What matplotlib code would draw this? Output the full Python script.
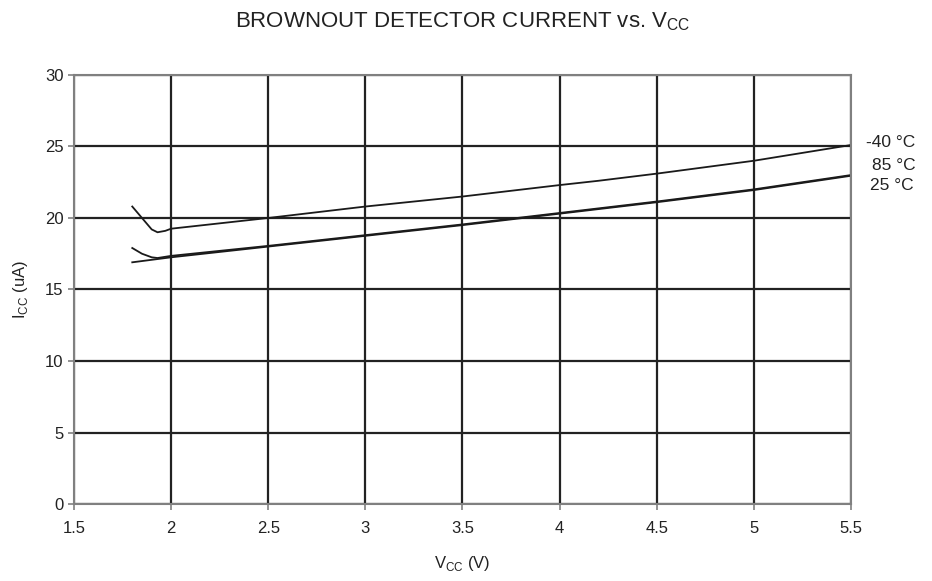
import matplotlib.pyplot as plt

plt.rcParams['font.family'] = ['Liberation Sans', 'DejaVu Sans']

# Datos
v_m40 = [1.80, 1.85, 1.90, 1.93, 1.97, 2.0, 2.5, 3.0, 3.5, 4.0, 4.2, 4.5, 5.0, 5.5]
i_m40 = [20.8, 20.0, 19.2, 19.0, 19.1, 19.25, 20.0, 20.8, 21.5, 22.3, 22.6, 23.1, 24.0, 25.1]

v_85 = [1.80, 1.85, 1.90, 1.93, 2.0, 2.5, 3.0, 3.5, 4.0, 4.5, 5.0, 5.5]
i_85 = [17.9, 17.5, 17.25, 17.2, 17.35, 18.05, 18.8, 19.55, 20.35, 21.15, 22.0, 23.0]

v_25 = [1.80, 2.0, 2.5, 3.0, 3.5, 4.0, 4.5, 5.0, 5.5]
i_25 = [16.9, 17.25, 18.0, 18.75, 19.5, 20.3, 21.1, 21.95, 22.95]

labels = ['-40 °C', '85 °C', '25 °C']
label_x = [5.577, 5.608, 5.600]
label_y = [25.3, 23.65, 22.25]

xticks = [1.5, 2, 2.5, 3, 3.5, 4, 4.5, 5, 5.5]
yticks = [0, 5, 10, 15, 20, 25, 30]

fig = plt.figure(figsize=(9.32, 5.81), dpi=100)
ax = fig.add_axes([0.0794, 0.1325, 0.8336, 0.7385])

ax.plot(v_m40, i_m40, color='#1a1a1a', lw=1.3)
ax.plot(v_85, i_85, color='#1a1a1a', lw=1.3)
ax.plot(v_25, i_25, color='#1a1a1a', lw=1.3)

ax.set_xlim(1.5, 5.5)
ax.set_ylim(0, 30)
ax.set_xticks(xticks)
ax.set_xticklabels(['1.5', '2', '2.5', '3', '3.5', '4', '4.5', '5', '5.5'])
ax.set_yticks(yticks)
ax.grid(True, color='#222222', lw=1.6)
ax.set_axisbelow(True)

for s in ax.spines.values():
    s.set_color('#808080')
    s.set_linewidth(1.5)
ax.tick_params(direction='out', length=4.5, width=1.2, color='#808080',
               labelsize=12, labelcolor='#222222')
ax.tick_params(axis='x', pad=8)
ax.tick_params(axis='y', pad=3)

for lab, xv, yv in zip(labels, label_x, label_y):
    ax.text(xv, yv, lab, fontsize=12.5, color='#222222',
            va='center', ha='left', clip_on=False)

ax.set_xlabel('V$_{\\mathregular{CC}}$ (V)', fontsize=12, color='#222222')
ax.set_ylabel('I$_{\\mathregular{CC}}$ (uA)', fontsize=12, color='#222222')
ax.xaxis.set_label_coords(0.5, -0.1375)
ax.yaxis.set_label_coords(-0.0695, 0.499)
ax.xaxis.label.set_va('center')
ax.yaxis.label.set_va('center')

fig.text(0.496, 0.962, 'BROWNOUT DETECTOR CURRENT vs. V$_{\\mathregular{CC}}$',
         ha='center', va='center', fontsize=16, color='#222222')

plt.savefig('out.png', dpi=100)
